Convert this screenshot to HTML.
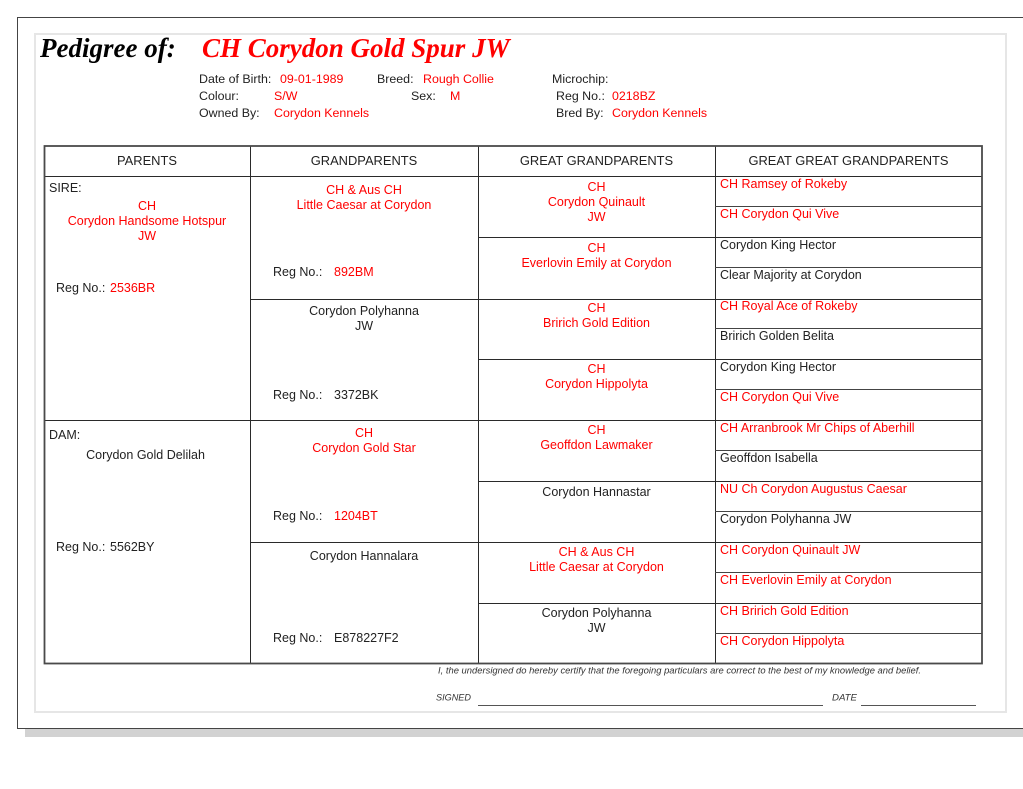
<!DOCTYPE html>
<html><head><meta charset="utf-8">
<style>
html,body{margin:0;padding:0;background:#fff;}
body{width:1023px;height:789px;position:relative;overflow:hidden;}
.t{position:absolute;font-family:"Liberation Sans",Arial,sans-serif;font-size:12.5px;line-height:15px;white-space:nowrap;color:#222;}
.i{font-size:12.4px;}
.r{color:#ff0000;}
.c{text-align:center;}
.h{font-size:12.9px;text-align:center;}
.title{position:absolute;font-family:"Liberation Serif","Times New Roman",serif;font-weight:bold;font-style:italic;font-size:27px;line-height:30px;white-space:nowrap;}
svg{position:absolute;left:0;top:0;}
</style></head><body>
<svg width="1023" height="789" viewBox="0 0 1023 789">
  <rect x="25" y="729" width="998" height="8" fill="#d2d2d2"/>
  <line x1="17" y1="17.5" x2="1023" y2="17.5" stroke="#444" stroke-width="1"/>
  <line x1="17.5" y1="17" x2="17.5" y2="729" stroke="#444" stroke-width="1"/>
  <line x1="17" y1="728.5" x2="1023" y2="728.5" stroke="#444" stroke-width="1"/>
  <rect x="35" y="34" width="971" height="678" fill="none" stroke="#e6e6e6" stroke-width="2"/>
  <g stroke="#2a2a2a" stroke-width="1" shape-rendering="crispEdges">
    <line x1="44" y1="176.5" x2="982" y2="176.5"/>
    <line x1="250.5" y1="146" x2="250.5" y2="663"/>
    <line x1="478.5" y1="146" x2="478.5" y2="663"/>
    <line x1="715.5" y1="146" x2="715.5" y2="663"/>
    <line x1="44" y1="420.5" x2="982" y2="420.5"/>
    <line x1="250" y1="299.5" x2="982" y2="299.5"/>
    <line x1="250" y1="542.5" x2="982" y2="542.5"/>
    <line x1="478" y1="237.5" x2="982" y2="237.5"/>
    <line x1="478" y1="359.5" x2="982" y2="359.5"/>
    <line x1="478" y1="481.5" x2="982" y2="481.5"/>
    <line x1="478" y1="603.5" x2="982" y2="603.5"/>
  </g>
  <g stroke="#444" stroke-width="1" shape-rendering="crispEdges">
    <line x1="715" y1="206.5" x2="982" y2="206.5"/>
    <line x1="715" y1="267.5" x2="982" y2="267.5"/>
    <line x1="715" y1="328.5" x2="982" y2="328.5"/>
    <line x1="715" y1="389.5" x2="982" y2="389.5"/>
    <line x1="715" y1="450.5" x2="982" y2="450.5"/>
    <line x1="715" y1="511.5" x2="982" y2="511.5"/>
    <line x1="715" y1="572.5" x2="982" y2="572.5"/>
    <line x1="715" y1="633.5" x2="982" y2="633.5"/>
  </g>
  <rect x="44.5" y="146" width="937.5" height="517.5" fill="none" stroke="#4a4a4a" stroke-width="1.8"/>
  <text x="438" y="673.6" font-family="Liberation Sans, Arial, sans-serif" font-style="italic" font-size="9" fill="#333" textLength="483" lengthAdjust="spacingAndGlyphs">I, the undersigned do hereby certify that the foregoing particulars are correct to the best of my knowledge and belief.</text>
  <text x="436" y="700.4" font-family="Liberation Sans, Arial, sans-serif" font-style="italic" font-size="9" fill="#333" textLength="35" lengthAdjust="spacingAndGlyphs">SIGNED</text>
  <text x="832" y="700.4" font-family="Liberation Sans, Arial, sans-serif" font-style="italic" font-size="9" fill="#333" textLength="25" lengthAdjust="spacingAndGlyphs">DATE</text>
  <line x1="478" y1="705.5" x2="823" y2="705.5" stroke="#555" stroke-width="1"/>
  <line x1="861" y1="705.5" x2="976" y2="705.5" stroke="#555" stroke-width="1"/>
</svg>

<div class="title" style="left:40px;top:33px;color:#000;">Pedigree of:</div>
<div class="title" style="left:202px;top:33px;color:#ff0000;">CH Corydon Gold Spur JW</div>

<div class="t i" style="left:199px;top:71.9px;">Date of Birth:</div>
<div class="t i r" style="left:280px;top:71.9px;">09-01-1989</div>
<div class="t i" style="left:377px;top:71.9px;">Breed:</div>
<div class="t i r" style="left:423px;top:71.9px;">Rough Collie</div>
<div class="t i" style="left:552px;top:71.9px;">Microchip:</div>

<div class="t i" style="left:199px;top:89.3px;">Colour:</div>
<div class="t i r" style="left:274px;top:89.3px;">S/W</div>
<div class="t i" style="left:411px;top:89.3px;">Sex:</div>
<div class="t i r" style="left:450px;top:89.3px;">M</div>
<div class="t i" style="left:556px;top:89.3px;">Reg No.:</div>
<div class="t i r" style="left:612px;top:89.3px;">0218BZ</div>

<div class="t i" style="left:199px;top:105.9px;">Owned By:</div>
<div class="t i r" style="left:274px;top:105.9px;">Corydon Kennels</div>
<div class="t i" style="left:556px;top:105.9px;">Bred By:</div>
<div class="t i r" style="left:612px;top:105.9px;">Corydon Kennels</div>

<div class="t h" style="left:44px;width:206px;top:152.8px;">PARENTS</div>
<div class="t h" style="left:250px;width:228px;top:152.8px;">GRANDPARENTS</div>
<div class="t h" style="left:478px;width:237px;top:152.8px;">GREAT GRANDPARENTS</div>
<div class="t h" style="left:715px;width:267px;top:152.8px;">GREAT GREAT GRANDPARENTS</div>

<div class="t" style="left:49px;top:180.6px;">SIRE:</div>
<div class="t c r" style="left:44px;width:206px;top:198.8px;">CH<br>Corydon Handsome Hotspur<br>JW</div>
<div class="t" style="left:56px;top:281.3px;">Reg No.:</div>
<div class="t r" style="left:110px;top:281.3px;">2536BR</div>

<div class="t" style="left:49px;top:427.5px;">DAM:</div>
<div class="t c" style="left:44px;width:203px;top:447.8px;">Corydon Gold Delilah</div>
<div class="t" style="left:56px;top:539.5px;">Reg No.:</div>
<div class="t" style="left:110px;top:539.5px;">5562BY</div>

<div class="t c r" style="left:250px;width:228px;top:182.8px;">CH &amp; Aus CH<br>Little Caesar at Corydon</div>
<div class="t" style="left:273px;top:264.5px;">Reg No.:</div>
<div class="t r" style="left:334px;top:264.5px;">892BM</div>

<div class="t c" style="left:250px;width:228px;top:304.3px;">Corydon Polyhanna<br>JW</div>
<div class="t" style="left:273px;top:387.6px;">Reg No.:</div>
<div class="t" style="left:334px;top:387.6px;">3372BK</div>

<div class="t c r" style="left:250px;width:228px;top:426.1px;">CH<br>Corydon Gold Star</div>
<div class="t" style="left:273px;top:508.8px;">Reg No.:</div>
<div class="t r" style="left:334px;top:508.8px;">1204BT</div>

<div class="t c" style="left:250px;width:228px;top:548.8px;">Corydon Hannalara</div>
<div class="t" style="left:273px;top:630.5px;">Reg No.:</div>
<div class="t" style="left:334px;top:630.5px;">E878227F2</div>

<div class="t c r" style="left:478px;width:237px;top:179.5px;">CH<br>Corydon Quinault<br>JW</div>
<div class="t c r" style="left:478px;width:237px;top:240.5px;">CH<br>Everlovin Emily at Corydon</div>
<div class="t c r" style="left:478px;width:237px;top:301px;">CH<br>Bririch Gold Edition</div>
<div class="t c r" style="left:478px;width:237px;top:361.5px;">CH<br>Corydon Hippolyta</div>
<div class="t c r" style="left:478px;width:237px;top:423px;">CH<br>Geoffdon Lawmaker</div>
<div class="t c" style="left:478px;width:237px;top:484.5px;">Corydon Hannastar</div>
<div class="t c r" style="left:478px;width:237px;top:544.8px;">CH &amp; Aus CH<br>Little Caesar at Corydon</div>
<div class="t c" style="left:478px;width:237px;top:605.8px;">Corydon Polyhanna<br>JW</div>

<div class="t r" style="left:720px;top:177.1px;">CH Ramsey of Rokeby</div>
<div class="t r" style="left:720px;top:207.3px;">CH Corydon Qui Vive</div>
<div class="t" style="left:720px;top:237.8px;">Corydon King Hector</div>
<div class="t" style="left:720px;top:268.3px;">Clear Majority at Corydon</div>
<div class="t r" style="left:720px;top:298.8px;">CH Royal Ace of Rokeby</div>
<div class="t" style="left:720px;top:329.3px;">Bririch Golden Belita</div>
<div class="t" style="left:720px;top:359.8px;">Corydon King Hector</div>
<div class="t r" style="left:720px;top:390.3px;">CH Corydon Qui Vive</div>
<div class="t r" style="left:720px;top:420.6px;">CH Arranbrook Mr Chips of Aberhill</div>
<div class="t" style="left:720px;top:451.1px;">Geoffdon Isabella</div>
<div class="t r" style="left:720px;top:481.6px;">NU Ch Corydon Augustus Caesar</div>
<div class="t" style="left:720px;top:512.1px;">Corydon Polyhanna JW</div>
<div class="t r" style="left:720px;top:542.6px;">CH Corydon Quinault JW</div>
<div class="t r" style="left:720px;top:573.1px;">CH Everlovin Emily at Corydon</div>
<div class="t r" style="left:720px;top:603.6px;">CH Bririch Gold Edition</div>
<div class="t r" style="left:720px;top:634.1px;">CH Corydon Hippolyta</div>
</body></html>
